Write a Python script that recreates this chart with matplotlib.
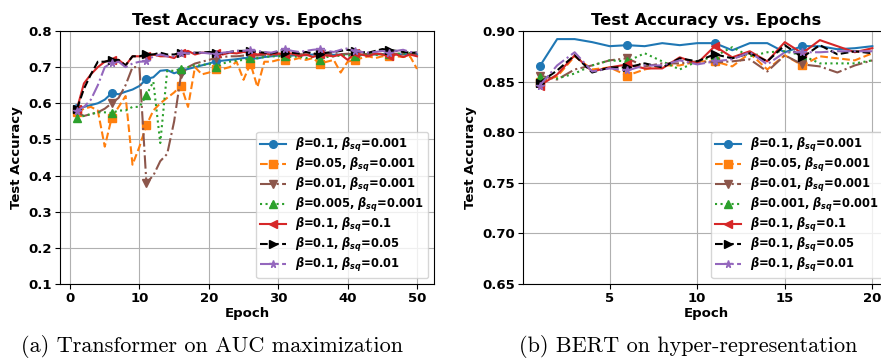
import matplotlib
matplotlib.use("Agg")
import matplotlib.pyplot as plt
import numpy as np

plt.rcParams['mathtext.fontset'] = 'custom'
plt.rcParams['mathtext.rm'] = 'DejaVu Sans:bold'
plt.rcParams['mathtext.it'] = 'DejaVu Sans:italic:bold'
plt.rcParams['mathtext.bf'] = 'DejaVu Sans:bold'

# ---------------- data: (a) Transformer on AUC maximization ----------------
epochs_a = list(range(1, 51))
a_b01_sq0001 = [0.586, 0.590, 0.595, 0.600, 0.610, 0.628, 0.625, 0.632, 0.638, 0.648,
                0.667, 0.672, 0.690, 0.692, 0.683, 0.690, 0.695, 0.700, 0.705, 0.710,
                0.716, 0.718, 0.720, 0.722, 0.725, 0.725, 0.724, 0.728, 0.730, 0.732,
                0.733, 0.732, 0.734, 0.733, 0.735, 0.733, 0.735, 0.734, 0.735, 0.736,
                0.735, 0.734, 0.736, 0.735, 0.736, 0.735, 0.736, 0.735, 0.736, 0.735]
a_b005_sq0001 = [0.575, 0.585, 0.590, 0.580, 0.480, 0.560, 0.590, 0.620, 0.430, 0.480,
                 0.539, 0.580, 0.600, 0.615, 0.630, 0.649, 0.590, 0.700, 0.680, 0.685,
                 0.694, 0.695, 0.700, 0.715, 0.665, 0.710, 0.645, 0.715, 0.715, 0.720,
                 0.719, 0.720, 0.725, 0.720, 0.725, 0.710, 0.715, 0.720, 0.685, 0.715,
                 0.720, 0.725, 0.730, 0.725, 0.730, 0.730, 0.730, 0.728, 0.730, 0.695]
a_b001_sq0001 = [0.575, 0.565, 0.570, 0.575, 0.585, 0.600, 0.615, 0.650, 0.700, 0.700,
                 0.380, 0.400, 0.440, 0.460, 0.550, 0.680, 0.700, 0.710, 0.715, 0.720,
                 0.725, 0.728, 0.730, 0.730, 0.732, 0.733, 0.732, 0.734, 0.733, 0.735,
                 0.734, 0.735, 0.736, 0.735, 0.736, 0.735, 0.736, 0.735, 0.736, 0.737,
                 0.736, 0.735, 0.737, 0.736, 0.737, 0.736, 0.737, 0.736, 0.737, 0.737]
a_b0005_sq0001 = [0.560, 0.565, 0.570, 0.575, 0.575, 0.573, 0.580, 0.580, 0.590, 0.590,
                  0.622, 0.660, 0.490, 0.690, 0.690, 0.695, 0.700, 0.705, 0.705, 0.710,
                  0.700, 0.710, 0.715, 0.718, 0.720, 0.725, 0.725, 0.728, 0.730, 0.730,
                  0.730, 0.728, 0.730, 0.725, 0.728, 0.720, 0.728, 0.730, 0.732, 0.733,
                  0.730, 0.733, 0.735, 0.734, 0.735, 0.735, 0.737, 0.738, 0.739, 0.740]
a_b01_sq01 = [0.585, 0.655, 0.680, 0.700, 0.715, 0.720, 0.720, 0.705, 0.730, 0.730,
              0.730, 0.735, 0.730, 0.730, 0.725, 0.740, 0.745, 0.735, 0.740, 0.740,
              0.738, 0.735, 0.740, 0.738, 0.742, 0.740, 0.735, 0.738, 0.735, 0.738,
              0.735, 0.738, 0.730, 0.735, 0.728, 0.735, 0.732, 0.730, 0.735, 0.720,
              0.738, 0.735, 0.730, 0.738, 0.735, 0.730, 0.735, 0.728, 0.735, 0.730]
a_b01_sq005 = [0.585, 0.640, 0.680, 0.715, 0.715, 0.720, 0.720, 0.705, 0.730, 0.730,
               0.735, 0.735, 0.740, 0.735, 0.735, 0.740, 0.738, 0.740, 0.740, 0.742,
               0.740, 0.738, 0.742, 0.745, 0.745, 0.745, 0.742, 0.740, 0.738, 0.742,
               0.740, 0.740, 0.738, 0.742, 0.738, 0.735, 0.740, 0.742, 0.745, 0.748,
               0.745, 0.742, 0.740, 0.745, 0.750, 0.748, 0.745, 0.742, 0.740, 0.740]
a_b01_sq001 = [0.580, 0.590, 0.610, 0.650, 0.700, 0.712, 0.715, 0.700, 0.710, 0.715,
               0.716, 0.730, 0.735, 0.730, 0.730, 0.740, 0.738, 0.740, 0.740, 0.738,
               0.735, 0.740, 0.742, 0.745, 0.745, 0.747, 0.745, 0.742, 0.740, 0.745,
               0.750, 0.745, 0.742, 0.745, 0.748, 0.750, 0.745, 0.742, 0.748, 0.752,
               0.745, 0.742, 0.740, 0.742, 0.745, 0.740, 0.745, 0.748, 0.742, 0.740]

# ---------------- data: (b) BERT on hyper-representation ----------------
epochs_b = list(range(1, 21))
b_b01_sq0001 = [0.865, 0.892, 0.892, 0.889, 0.885, 0.886, 0.885, 0.888, 0.886, 0.888,
                0.888, 0.881, 0.888, 0.888, 0.879, 0.885, 0.885, 0.882, 0.883, 0.885]
b_b005_sq0001 = [0.850, 0.855, 0.875, 0.862, 0.864, 0.856, 0.862, 0.866, 0.866, 0.870,
                 0.870, 0.865, 0.878, 0.862, 0.876, 0.866, 0.875, 0.873, 0.871, 0.878]
b_b001_sq0001 = [0.856, 0.852, 0.862, 0.866, 0.871, 0.873, 0.865, 0.868, 0.868, 0.870,
                 0.869, 0.870, 0.872, 0.860, 0.876, 0.867, 0.865, 0.859, 0.866, 0.871]
b_b0001_sq0001 = [0.855, 0.853, 0.858, 0.866, 0.871, 0.870, 0.878, 0.870, 0.862, 0.870,
                  0.875, 0.884, 0.875, 0.879, 0.880, 0.876, 0.868, 0.868, 0.868, 0.871]
b_b01_sq01 = [0.846, 0.857, 0.876, 0.860, 0.864, 0.867, 0.863, 0.863, 0.874, 0.868,
              0.885, 0.874, 0.880, 0.870, 0.889, 0.878, 0.891, 0.885, 0.879, 0.883]
b_b01_sq005 = [0.849, 0.861, 0.876, 0.859, 0.864, 0.864, 0.868, 0.864, 0.873, 0.870,
               0.877, 0.873, 0.878, 0.870, 0.886, 0.874, 0.886, 0.877, 0.880, 0.878]
b_b01_sq001 = [0.846, 0.866, 0.879, 0.860, 0.863, 0.861, 0.866, 0.866, 0.871, 0.867,
               0.870, 0.872, 0.879, 0.867, 0.879, 0.879, 0.879, 0.880, 0.880, 0.880]

labels_a = [r'$\beta$=0.1, $\beta_{sq}$=0.001', r'$\beta$=0.05, $\beta_{sq}$=0.001',
            r'$\beta$=0.01, $\beta_{sq}$=0.001', r'$\beta$=0.005, $\beta_{sq}$=0.001',
            r'$\beta$=0.1, $\beta_{sq}$=0.1', r'$\beta$=0.1, $\beta_{sq}$=0.05',
            r'$\beta$=0.1, $\beta_{sq}$=0.01']
labels_b = [r'$\beta$=0.1, $\beta_{sq}$=0.001', r'$\beta$=0.05, $\beta_{sq}$=0.001',
            r'$\beta$=0.01, $\beta_{sq}$=0.001', r'$\beta$=0.001, $\beta_{sq}$=0.001',
            r'$\beta$=0.1, $\beta_{sq}$=0.1', r'$\beta$=0.1, $\beta_{sq}$=0.05',
            r'$\beta$=0.1, $\beta_{sq}$=0.01']

series_a = [a_b01_sq0001, a_b005_sq0001, a_b001_sq0001, a_b0005_sq0001,
            a_b01_sq01, a_b01_sq005, a_b01_sq001]
series_b = [b_b01_sq0001, b_b005_sq0001, b_b001_sq0001, b_b0001_sq0001,
            b_b01_sq01, b_b01_sq005, b_b01_sq001]

colors = ['tab:blue', 'tab:orange', 'tab:brown', 'tab:green', 'tab:red', 'black', 'tab:purple']
styles = ['-', '--', '-.', ':', '-', '--', '-.']
markers = ['o', 's', 'v', '^', '<', '>', '*']

fig = plt.figure(figsize=(8.81, 3.64), dpi=100)
ax1 = fig.add_axes([60/881, 80/364, 374/881, 253/364])
ax2 = fig.add_axes([523/881, 80/364, 366/881, 253/364])

def draw(ax, x, series, labels, ylim, yticks, yfmt):
    for s, lab, c, ls, m in zip(series, labels, colors, styles, markers):
        ax.plot(x, s, color=c, linestyle=ls, marker=m, markevery=5,
                markersize=5.5, linewidth=1.5, label=lab)
    ax.set_ylim(*ylim)
    ax.set_yticks(yticks)
    ax.set_yticklabels([yfmt.format(v) for v in yticks])
    ax.grid(True, color='#b0b0b0', linewidth=0.8)
    ax.set_title('Test Accuracy vs. Epochs', fontsize=11.75, fontweight='bold', pad=4)
    ax.set_xlabel('Epoch', fontsize=9.5, fontweight='bold', labelpad=2)
    ax.set_ylabel('Test Accuracy', fontsize=9.5, fontweight='bold', labelpad=4)
    for t in ax.get_xticklabels() + ax.get_yticklabels():
        t.set_fontweight('bold')
        t.set_fontsize(9.5)
    ax.tick_params(length=3.5, pad=2)
    ax.legend(loc='lower right', prop={'weight': 'bold', 'size': 8.3},
              framealpha=0.8, labelspacing=0.18, handlelength=2.2,
              borderpad=0.35)

draw(ax1, epochs_a, series_a, labels_a, (0.1, 0.8),
     [0.1, 0.2, 0.3, 0.4, 0.5, 0.6, 0.7, 0.8], '{:.1f}')
draw(ax2, epochs_b, series_b, labels_b, (0.65, 0.90),
     [0.65, 0.70, 0.75, 0.80, 0.85, 0.90], '{:.2f}')
ax2.set_xticks([5, 10, 15, 20])

fig.text(212/881, 1 - 347/364, '(a) Transformer on AUC maximization',
         family='cmr10', fontsize=16, ha='center', va='center')
fig.text(688/881, 1 - 347/364, '(b) BERT on hyper-representation',
         family='cmr10', fontsize=16, ha='center', va='center')

fig.savefig('out.png', dpi=100)
